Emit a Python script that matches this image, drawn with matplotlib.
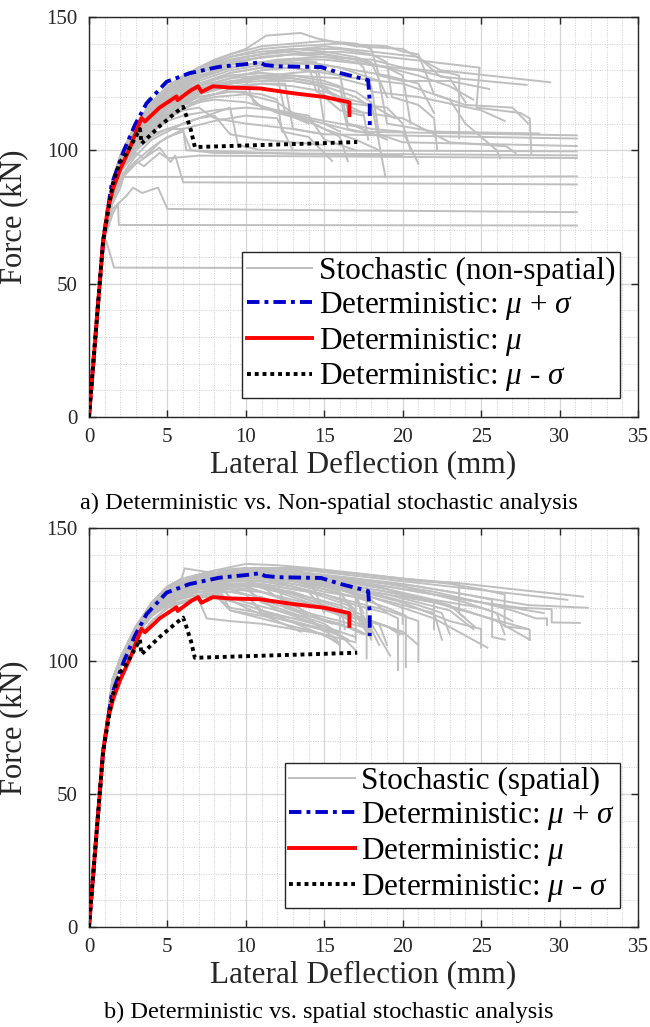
import matplotlib
matplotlib.use('Agg')
import matplotlib.pyplot as plt
from matplotlib.ticker import MultipleLocator

plt.rcParams['font.family'] = ['Liberation Serif', 'DejaVu Serif']
plt.rcParams['mathtext.fontset'] = 'custom'
plt.rcParams['mathtext.rm'] = 'Liberation Serif'
plt.rcParams['mathtext.it'] = 'Liberation Serif:italic'

# deterministic pushover curves (same in both panels)
det_plus_x = [0, 0.9, 1.44, 2.2, 2.93, 3.67, 4.95, 6.4, 8.3, 10, 10.9, 11.2, 12, 14.8, 16, 17.8, 17.9, 17.9]
det_plus_f = [0, 66, 87, 99.5, 109.5, 117.6, 125.7, 128.9, 131.3, 132.3, 133, 132, 131.5, 131.2, 129, 126.3, 118, 109.4]

det_mean_x = [0, 0.9, 1.2, 1.55, 2, 2.61, 3.35, 3.57, 4.5, 5.58, 5.65, 6.5, 6.96, 7.17, 7.9, 9, 10.9, 13, 15, 16.6, 16.6]
det_mean_f = [0, 65.9, 78, 85.9, 93, 100.9, 112.1, 110.8, 116, 120.2, 118.8, 122.5, 124, 121.9, 124, 123.5, 123.2, 121.4, 120, 118, 113.2]

det_minus_x = [0, 0.9, 1.5, 1.97, 2.3, 2.6, 3.25, 3.35, 4.5, 5.5, 6.0, 6.2, 6.5, 6.75, 10, 14, 17.1]
det_minus_f = [0, 66, 87, 95.6, 98, 101, 108, 102.5, 109, 114, 116.3, 113, 107.5, 101.2, 101.8, 102.5, 103.1]

# stochastic (non-spatial) runs
nonspatial_x = [
    [0, 0.9, 1.5, 2, 3, 4, 5, 6, 8, 10, 11.3, 13.5, 14.5, 17, 20, 22.4, 29.4],
    [0, 0.9, 1.5, 2, 3, 4, 5, 7, 9, 12, 15, 18, 21, 22.4, 27.9],
    [0, 0.9, 1.5, 2, 3, 4, 6, 8, 10, 13, 16, 19, 22, 24.9, 24.7, 27.5, 28.1, 28.2],
    [0, 0.9, 1.5, 2, 3, 5, 7, 9, 12, 15, 18, 20, 23, 23.6, 23.6],
    [0, 0.9, 1.5, 2, 3, 5, 7, 10, 13, 16, 18, 19, 19.3, 21, 22, 22.2],
    [0, 0.9, 1.5, 2, 3, 5, 7, 9, 12, 14, 16, 17.5, 18.5, 19, 22, 28.7],
    [0, 0.9, 1.5, 2, 3, 4, 6, 8, 10, 13, 15, 16, 16.5, 20, 23, 26.6, 27.2],
    [0, 0.9, 1.5, 2, 3, 5, 7, 9, 11, 13, 14.5, 15, 17, 31.1],
    [0, 0.9, 1.5, 2, 3, 5, 7, 9, 11, 12.5, 13, 15, 31.1],
    [0, 0.9, 1.5, 2, 3, 5, 7, 10, 13, 16, 18, 18.5, 20, 31.1],
    [0, 0.9, 1.5, 2, 3, 4, 6, 8, 9, 9.5, 11, 31.1],
    [0, 0.9, 1.5, 2, 3, 4, 5, 6, 6.5, 8, 31.1],
    [0, 0.9, 1.5, 2, 2.5, 3, 3.5, 4.5, 5, 7, 31.1],
    [0, 0.9, 1.5, 2, 2.2, 31.1],
    [0, 0.9, 1.5, 2, 3, 4, 4.5, 5.2, 5.5, 6, 31.1],
    [0, 0.9, 1.5, 2.4, 2.8, 3.4, 4.4, 5, 31.1],
    [0, 0.9, 1.5, 1.85, 1.9, 31.1],
    [0, 0.9, 1.1, 1.6, 31.1],
    [0, 0.9, 1.5, 2, 3, 5, 7, 9, 11, 13, 14.5, 15, 16, 17.5],
    [0, 0.9, 1.5, 2, 3, 5, 7, 9, 11, 13, 15, 16, 17.5, 17.8],
    [0, 0.9, 1.5, 2, 3, 5, 7, 9, 11, 12, 12.3, 14, 15.5],
    [0, 0.9, 1.5, 2, 3, 5, 7, 9, 11, 13, 15, 17, 18, 18.9],
    [0, 0.9, 1.5, 2, 3, 5, 7, 9, 11, 13, 15, 17, 20, 22, 23, 24, 26, 26.2],
    [0, 0.9, 1.5, 2, 3, 5, 6, 8, 10, 12, 13.5, 15, 17, 18.5],
    [0, 0.9, 1.5, 2, 3, 5, 7, 9, 11, 13, 15, 17, 17.5, 18, 21, 25, 26.5],
    [0, 0.9, 1.5, 2, 3, 5, 7, 9, 11, 13, 16, 19, 20, 21, 22, 24, 27, 28],
    [0, 0.9, 1.5, 2, 3, 4, 5, 6, 6.2, 9, 14, 20],
    [0, 0.9, 1.5, 2, 3, 5, 7, 9, 10, 10.5, 12, 14, 16, 16.5],
    [0, 0.9, 1.5, 2, 3, 5, 7, 9, 11, 13, 14, 14.5, 16, 19, 20, 20.5],
    [0, 0.9, 1.5, 2, 3, 5, 7, 9, 11, 13, 15, 17, 18, 18.5, 20, 23, 25.5],
    [0, 0.9, 1.5, 2, 3, 5, 7, 9, 11, 13, 15, 16, 16.5, 18, 20, 21],
    [0, 0.9, 1.5, 2, 3, 4, 5, 7, 9, 11, 13, 15, 16, 16.5, 18],
    [0, 0.9, 1.5, 2, 3, 4, 5, 6, 8, 10, 12, 14, 15, 17],
    [0, 0.9, 1.5, 2, 3, 4, 5, 7, 9, 11, 13, 15, 17, 19, 20, 20.5],
    [0, 0.9, 1.5, 2, 3, 4, 5, 7, 9, 11, 12, 12.5, 15, 17, 19],
    [0, 0.9, 1.5, 2, 3, 4, 5, 6, 7, 8, 10, 13, 15],
    [0, 0.9, 1.5, 2, 3, 4, 5, 7, 9, 11, 13, 15, 17, 19, 21, 23, 24.5],
    [0, 0.9, 1.5, 2, 3, 4, 5, 7, 8, 9, 11, 13, 15],
    [0, 0.9, 1.5, 2, 3, 4, 5, 7, 9, 11, 13, 15, 17, 18],
    [0, 0.9, 1.5, 2, 3, 4, 5, 7, 9, 11, 13, 15, 17, 18, 19],
    [0, 0.9, 1.5, 2, 3, 4, 5, 7, 8, 10, 12, 14],
    [0, 0.9, 1.5, 2, 3, 4, 5, 7, 9, 11, 13, 15, 18, 21, 23, 24],
    [0, 0.9, 1.5, 2, 3, 3.5, 4.5, 6, 8, 10, 12, 13],
    [0, 0.9, 1.5, 2, 3, 4, 5, 7, 9, 11, 13, 14, 16, 18, 19.5],
    [0, 0.9, 1.5, 2, 3, 4, 5, 7, 9, 10, 11, 13, 15, 16],
    [0, 0.9, 1.5, 2, 3, 4, 5, 7, 9, 11, 13, 15, 17, 19, 21, 22],
]
nonspatial_f = [
    [0, 65, 89, 98, 110, 118, 124, 128, 134, 138, 143, 144, 142, 139, 138, 130, 125.5],
    [0, 65, 88, 97, 108, 116, 122, 129, 134, 137, 139, 137, 135, 127.6, 124.5],
    [0, 65, 87, 96, 107, 115, 124, 130, 134, 136, 137, 135, 133, 131, 116, 114, 112, 99],
    [0, 65, 86, 95, 106, 119, 127, 131, 134, 135, 134, 131, 129, 128, 104.5],
    [0, 65, 88, 97, 109, 122, 129, 135, 138, 138, 136, 133, 120, 117, 112, 100],
    [0, 65, 87, 95, 105, 117, 124, 129, 132, 133, 131, 128, 126, 110, 107, 106.3],
    [0, 65, 85, 93, 103, 110, 118, 124, 127, 129, 130, 128, 115, 112, 103, 101.5, 99],
    [0, 65, 86, 94, 104, 116, 123, 127, 130, 131, 129, 110, 107, 105.6],
    [0, 65, 84, 92, 101, 112, 119, 123, 125, 125, 108, 106, 104.4],
    [0, 65, 85, 93, 102, 113, 121, 127, 128, 127, 124, 106, 103, 101.6],
    [0, 65, 83, 90, 98, 104, 110, 114, 116, 102, 100, 99.6],
    [0, 65, 82, 89, 96, 101, 105, 107, 100, 99, 98.1],
    [0, 65, 81, 88, 93, 96, 94, 99, 97, 98, 97.1],
    [0, 65, 80, 86, 90, 90.2],
    [0, 65, 83, 89, 95, 99, 101, 95.6, 98, 88, 87.2],
    [0, 65, 78, 83, 86, 84, 86, 78, 76.8],
    [0, 65, 76, 80, 72, 71.8],
    [0, 62, 66, 56, 55.6],
    [0, 65, 88, 96, 107, 120, 127, 131, 133, 134, 133, 120, 115, 113],
    [0, 65, 87, 95, 105, 117, 123, 126, 127, 126, 124, 118, 114, 104],
    [0, 65, 86, 94, 104, 114, 120, 122, 121, 119, 107, 105, 96],
    [0, 65, 86, 94, 104, 115, 121, 125, 127, 127, 125, 122, 118, 90],
    [0, 65, 87, 96, 106, 118, 125, 129, 131, 131, 129, 127, 125, 121, 119, 110, 100, 97],
    [0, 65, 85, 93, 103, 113, 117, 120, 121, 118, 112, 108, 104, 100],
    [0, 65, 88, 97, 108, 121, 128, 132, 135, 136, 136, 134, 131, 122, 120, 115, 111],
    [0, 65, 89, 98, 109, 122, 130, 135, 138, 139, 140, 139, 137, 136, 121, 117, 116, 110],
    [0, 65, 85, 93, 102, 106, 108, 108, 100, 99.5, 98.5, 98],
    [0, 65, 86, 94, 104, 116, 122, 125, 126, 118, 114, 111, 105, 96],
    [0, 65, 87, 96, 107, 119, 126, 130, 132, 133, 132, 122, 118, 116, 110, 100],
    [0, 65, 89, 98, 110, 123, 131, 136, 139, 140, 141, 140, 138, 128, 126, 126, 123],
    [0, 65, 87, 96, 106, 118, 125, 128, 129, 128, 126, 124, 110, 108, 107, 95],
    [0, 65, 86, 94, 104, 111, 116, 121, 124, 125, 124, 122, 120, 108, 106],
    [0, 65, 85, 93, 101, 107, 111, 113, 115, 116, 115, 113, 104, 100],
    [0, 65, 88, 97, 108, 117, 123, 130, 134, 136, 137, 136, 134, 131, 128, 110],
    [0, 65, 87, 96, 106, 114, 119, 125, 128, 129, 128, 114, 111, 109, 104],
    [0, 65, 86, 93, 102, 108, 112, 115, 116, 112, 110, 108, 106],
    [0, 65, 88, 97, 108, 116, 122, 129, 133, 135, 136, 135, 133, 131, 128, 124, 119],
    [0, 65, 85, 92, 100, 105, 108, 112, 113, 106, 104, 103, 102],
    [0, 65, 87, 95, 105, 112, 117, 122, 125, 126, 126, 124, 120, 116],
    [0, 65, 88, 97, 109, 118, 124, 131, 135, 137, 138, 137, 135, 133, 120],
    [0, 65, 86, 94, 103, 109, 113, 118, 119, 118, 115, 110],
    [0, 65, 87, 96, 107, 115, 121, 127, 131, 133, 134, 134, 132, 130, 127, 118],
    [0, 65, 85, 92, 99, 97, 103, 108, 111, 113, 112, 100],
    [0, 65, 87, 95, 105, 113, 119, 124, 127, 128, 127, 126, 120, 117, 112],
    [0, 65, 86, 94, 104, 111, 116, 120, 122, 122, 116, 113, 110, 107],
    [0, 65, 88, 97, 108, 116, 122, 128, 131, 133, 133, 132, 130, 128, 125, 114],
]

# stochastic (spatial) runs
spatial_x = [
    [0, 0.9, 1.5, 2, 3, 4, 5, 6, 8, 10, 12, 14, 17, 20, 24, 27, 31.5],
    [0, 0.9, 1.5, 2, 3, 4, 5, 7, 9, 11, 14, 17, 20, 23, 26, 28, 31.8],
    [0, 0.9, 1.5, 2, 3, 4, 5, 7, 9, 11, 13, 16, 19, 22, 25, 27.5, 29.5, 29.5, 31.3],
    [0, 0.9, 1.5, 2, 3, 4, 5, 7, 9, 11, 13, 16, 19, 22, 25, 28, 28.1, 28.1],
    [0, 0.9, 1.5, 2, 3, 4, 5, 7, 9, 11, 13, 15, 18, 21, 24, 25.7, 25.7, 26.5],
    [0, 0.9, 1.5, 2, 3, 4, 5, 7, 9, 11, 13, 15, 18, 20, 23, 25, 25],
    [0, 0.9, 1.5, 2, 3, 4, 5, 7, 9, 11, 13, 15, 18, 21, 23.6, 23.6, 24.6],
    [0, 0.9, 1.5, 2, 3, 4, 5, 7, 9, 11, 13, 15, 17, 19, 19.7, 19.7],
    [0, 0.9, 1.5, 2, 3, 4, 5, 7, 9, 11, 13, 15, 17, 19, 20.2, 20.2],
    [0, 0.9, 1.5, 2, 3, 4, 5, 7, 9, 11, 13, 15, 17, 19, 21, 21],
    [0, 0.9, 1.5, 2, 3, 4, 5, 5.9, 6.1, 8, 10, 12, 14, 16, 17.7, 17.7],
    [0, 0.9, 1.5, 2, 3, 4, 5, 7, 9, 11, 13, 14.5, 16, 18, 18.5],
    [0, 0.9, 1.5, 2, 3, 4, 5, 6, 8, 9, 10, 12, 14, 15, 16, 17],
    [0, 0.9, 1.5, 2, 3, 4, 5, 6, 7, 7.5, 9, 11, 13, 15, 17],
    [0, 0.9, 1.5, 2, 3, 4, 5, 6, 8, 10, 12, 14, 16, 17.5, 18],
    [0, 0.9, 1.5, 2, 3, 4, 5, 6, 8, 10, 12, 14, 16, 18, 20, 22, 22.5],
    [0, 0.9, 1.5, 2, 3, 4, 5, 7, 9, 11, 12, 13, 15, 17, 19, 20],
    [0, 0.9, 1.5, 2, 3, 4, 5, 7, 9, 10, 11, 13, 15, 16],
    [0, 0.9, 1.5, 2, 3, 4, 5, 7, 9, 11, 13, 15, 17, 17.5],
    [0, 0.9, 1.5, 2, 3, 4, 5, 7, 9, 11, 13, 15, 16, 16.3],
    [0, 0.9, 1.5, 2, 3, 4, 5, 6, 8, 10, 12, 14, 15.5],
    [0, 0.9, 1.5, 2, 3, 4, 5, 7, 9, 11, 13, 15, 17, 19, 21, 23, 24],
    [0, 0.9, 1.5, 2, 3, 4, 5, 7, 9, 11, 13, 16, 19, 22, 25, 27, 28.5, 29.2, 29.2],
    [0, 0.9, 1.5, 2, 3, 4, 5, 7, 9, 11, 13, 15, 18, 21, 24, 26, 28.1],
    [0, 0.9, 1.5, 2, 3, 4, 5, 7, 9, 11, 13, 15, 18, 20, 22, 25.4],
    [0, 0.9, 1.5, 2, 3, 4, 5, 7, 9, 10, 11, 12, 14, 16],
    [0, 0.9, 1.5, 2, 3, 4, 5, 7, 8, 9, 11, 13, 15, 16.5],
    [0, 0.9, 1.5, 2, 3, 4, 5, 7, 9, 11, 13, 15, 16, 17.8],
    [0, 0.9, 1.5, 2, 3, 4, 5, 7, 9, 11, 13, 14, 15, 17, 19, 19.8],
    [0, 0.9, 1.5, 2, 3, 4, 5, 7, 9, 11, 13, 15, 17, 19, 21, 22, 22],
    [0, 0.9, 1.5, 2, 3, 4, 5, 7, 9, 11, 14, 17, 20, 23, 25, 26.5, 26.5, 28],
    [0, 0.9, 1.5, 2, 3, 4, 5, 7, 9, 11, 13, 15, 16.5, 17, 17],
    [0, 0.9, 1.5, 2, 3, 4, 5, 7, 8, 9, 10, 12, 14, 15],
    [0, 0.9, 1.5, 2, 3, 4, 5, 6, 7, 9, 11, 13, 14, 15.8],
    [0, 0.9, 1.5, 2, 3, 4, 5, 7, 9, 10, 10.5, 12, 14, 16, 18],
    [0, 0.9, 1.5, 2, 3, 4, 5, 7, 9, 11, 12, 12.5, 14, 16, 17.5],
    [0, 0.9, 1.5, 2, 3, 4, 5, 7, 9, 11, 13, 15, 17, 19, 20, 20],
    [0, 0.9, 1.5, 2, 3, 4, 5, 7, 9, 11, 13, 15, 16, 16],
    [0, 0.9, 1.5, 2, 3, 4, 5, 6, 8, 10, 12, 14, 16, 18, 19],
    [0, 0.9, 1.5, 2, 3, 4, 5, 7, 9, 11, 13, 14, 15, 17, 18],
    [0, 0.9, 1.5, 2, 3, 4, 5, 6, 7, 8, 10, 12, 13.5],
    [0, 0.9, 1.5, 2, 3, 4, 5, 7, 9, 11, 14, 17, 20, 22, 24, 26, 27],
    [0, 0.9, 1.5, 2, 3, 4, 5, 7, 9, 11, 13, 16, 19, 21, 23, 24.5],
    [0, 0.9, 1.5, 2, 3, 4, 5, 7, 9, 10, 11, 13, 15, 16.5],
    [0, 0.9, 1.5, 2, 3, 4, 5, 6, 8, 10, 12, 14, 16, 17, 17],
    [0, 0.9, 1.5, 2, 3, 4, 5, 7, 9, 11, 13, 15, 17, 18.5, 19],
    [0, 0.9, 1.5, 2, 3, 4, 5, 7, 9, 11, 14, 17, 20, 23, 26, 29, 30.5],
    [0, 0.9, 1.5, 2, 3, 4, 5, 7, 8.5, 9, 11, 13, 15, 16],
    [0, 0.9, 1.5, 2, 3, 4, 5, 7, 9, 11, 13, 15, 17, 19, 21, 22.5, 23],
    [0, 0.9, 1.5, 2, 3, 4, 5, 7, 9, 11, 12, 14, 16, 18, 20, 21],
    [0, 0.9, 1.5, 2, 3, 4, 5, 6, 8, 10, 12, 14, 15],
    [0, 0.9, 1.5, 2, 3, 4, 5, 7, 9, 11, 13, 15, 18, 21, 24, 27, 29],
    [0, 0.9, 1.5, 2, 3, 4, 5, 7, 9, 10, 12, 14, 16, 18, 19.2],
    [0, 0.9, 1.5, 2, 3, 4, 5, 7, 9, 11, 13, 15, 17, 17.5],
    [0, 0.9, 1.5, 2, 3, 4, 5, 7, 9, 11, 13, 16, 19, 22, 25, 26, 26.5],
    [0, 0.9, 1.5, 2, 3, 4, 5, 7, 9, 10, 12, 13, 15, 17],
    [0, 0.9, 1.5, 2, 3, 4, 5, 7, 8, 10, 12, 14, 16],
    [0, 0.9, 1.5, 2, 3, 4, 5, 7, 9, 11, 13, 15, 16.5, 18],
]
spatial_f = [
    [0, 66, 93, 101, 113, 121, 127, 131, 134, 136.5, 136, 135, 133, 131, 129, 127, 124.2],
    [0, 66, 92, 100, 112, 120, 126, 131, 133, 134, 133, 131, 129, 126, 123, 121, 120],
    [0, 66, 92, 100, 112, 119, 125, 130, 132, 133, 132, 130, 128, 125, 122, 120, 119.5, 114.5, 114.3],
    [0, 66, 91, 99, 111, 119, 124, 129, 131, 132, 131, 129, 126, 122, 117, 112, 111.6, 107.9],
    [0, 66, 91, 99, 110, 118, 124, 129, 132, 133, 133, 132, 130, 128, 125, 123, 109, 108],
    [0, 66, 92, 100, 111, 119, 125, 130, 132, 132, 131, 129, 125, 122, 115, 112, 105],
    [0, 66, 93, 101, 113, 121, 127, 132, 134, 135, 135, 134, 132, 130, 129.3, 118, 112.8],
    [0, 66, 92, 100, 111, 119, 125, 129, 130, 130, 128, 125, 121, 118, 116, 96.6],
    [0, 66, 91, 99, 110, 118, 123, 128, 130, 130, 129, 127, 124, 120, 117, 97.7],
    [0, 66, 91, 99, 110, 117, 122, 127, 129, 129, 127, 125, 122, 119, 115, 99.6],
    [0, 66, 93, 101, 113, 122, 128, 131, 134.8, 133, 134, 133, 131, 127, 123, 101],
    [0, 66, 92, 100, 111, 118, 123, 127, 127, 126, 123, 121, 117, 112, 106],
    [0, 66, 91, 99, 110, 117, 121, 124, 125, 120, 119, 117, 115, 112, 110, 104],
    [0, 66, 91, 98, 108, 115, 120, 122, 123, 116, 115, 114, 112, 110, 107],
    [0, 66, 92, 100, 112, 120, 125, 129, 131, 130, 127, 124, 121, 117, 108],
    [0, 66, 92, 100, 111, 119, 124, 128, 131, 132, 131, 129, 127, 124, 121, 118, 108],
    [0, 66, 91, 99, 110, 118, 123, 127, 129, 128, 124, 122, 120, 117, 113, 110],
    [0, 66, 92, 100, 111, 119, 124, 128, 129, 128, 122, 118, 114, 110],
    [0, 66, 93, 101, 113, 121, 127, 131, 133, 133, 132, 130, 128, 113],
    [0, 66, 92, 100, 112, 120, 126, 130, 132, 132, 130, 127, 125, 112],
    [0, 66, 92, 100, 111, 119, 124, 127, 129, 128, 124, 118, 114],
    [0, 66, 93, 101, 113, 121, 127, 132, 134, 134, 133, 131, 129, 127, 124, 121, 116],
    [0, 66, 93, 101, 113, 121, 127, 131, 133, 134, 133, 131, 129, 126, 122, 119, 116, 116, 113.5],
    [0, 66, 92, 100, 112, 120, 126, 130, 132, 133, 132, 130, 127, 124, 119, 115, 108],
    [0, 66, 92, 99, 110, 118, 124, 129, 131, 131, 130, 128, 124, 120, 116, 105],
    [0, 66, 91, 99, 110, 117, 122, 126, 127, 125, 118, 116, 113, 110],
    [0, 66, 91, 98, 108, 115, 120, 124, 125, 119, 117, 115, 112, 108],
    [0, 66, 93, 101, 113, 121, 127, 131, 133, 133, 131, 128, 126, 110],
    [0, 66, 92, 100, 111, 119, 124, 128, 129, 129, 127, 126, 119, 116, 113, 110],
    [0, 66, 93, 101, 113, 121, 126, 130, 132, 132, 131, 129, 127, 125, 123, 122, 112],
    [0, 66, 93, 101, 113, 121, 127, 131, 134, 135, 134, 133, 131, 129, 127, 125, 113, 112],
    [0, 66, 90, 99, 111, 119, 124, 128, 130, 130, 128, 125, 122, 119, 108],
    [0, 66, 91, 100, 112, 120, 125, 129, 130, 124, 122, 119, 116, 111],
    [0, 66, 90, 99, 110, 117, 122, 125, 126, 126, 124, 120, 116, 108],
    [0, 67, 92, 101, 113, 121, 127, 131, 133, 133, 124, 121, 118, 115, 112],
    [0, 66, 91, 100, 111, 119, 125, 129, 131, 131, 130, 120, 117, 114, 110],
    [0, 67, 92, 101, 113, 122, 128, 132, 134, 135, 134, 132, 130, 127, 125, 114],
    [0, 66, 90, 99, 110, 118, 123, 127, 128, 128, 126, 122, 120, 104],
    [0, 66, 91, 100, 112, 120, 126, 129, 132, 133, 132, 130, 127, 123, 118],
    [0, 66, 90, 99, 111, 118, 123, 126, 127, 126, 122, 117, 115, 112, 109],
    [0, 66, 91, 100, 111, 119, 124, 127, 128, 126, 120, 115, 111],
    [0, 67, 92, 101, 113, 121, 127, 131, 133, 134, 133, 131, 128, 125, 122, 118, 115],
    [0, 66, 91, 100, 112, 120, 125, 129, 131, 132, 131, 128, 125, 122, 119, 112],
    [0, 66, 90, 99, 110, 117, 122, 125, 126, 125, 119, 116, 113, 108],
    [0, 67, 92, 101, 113, 121, 127, 130, 133, 134, 133, 131, 128, 126, 116],
    [0, 66, 91, 100, 111, 119, 124, 128, 129, 128, 125, 121, 117, 114, 106],
    [0, 67, 92, 101, 113, 121, 127, 131, 134, 135, 134, 132, 130, 128, 126, 124, 123],
    [0, 66, 90, 99, 110, 117, 121, 124, 125, 119, 116, 113, 110, 106],
    [0, 66, 91, 100, 112, 120, 126, 130, 132, 133, 132, 130, 127, 124, 121, 118, 110],
    [0, 66, 90, 99, 110, 118, 123, 127, 129, 129, 127, 123, 119, 115, 111, 106],
    [0, 67, 92, 101, 113, 122, 128, 131, 134, 135, 134, 132, 118],
    [0, 66, 91, 100, 112, 120, 126, 130, 132, 133, 133, 131, 129, 126, 123, 120, 118],
    [0, 66, 90, 99, 111, 119, 124, 128, 129, 129, 126, 122, 118, 114, 102],
    [0, 66, 91, 100, 112, 120, 125, 129, 131, 131, 129, 126, 124, 118],
    [0, 67, 92, 101, 113, 121, 127, 131, 133, 134, 133, 130, 127, 123, 120, 118, 110],
    [0, 66, 91, 99, 110, 118, 123, 127, 128, 127, 119, 117, 113, 109],
    [0, 66, 90, 99, 110, 117, 121, 124, 124, 121, 117, 112, 107],
    [0, 66, 91, 100, 111, 119, 124, 128, 130, 130, 128, 124, 121, 111],
]

gray = '#BFBFBF'
axis_col = '#262626'

fig = plt.figure(figsize=(6.5, 10.27), dpi=100)
ax_a = fig.add_axes([0.1369, 0.594, 0.8446, 0.3895])
ax_b = fig.add_axes([0.1369, 0.0974, 0.8446, 0.3885])


def draw_panel(ax, runs_x, runs_f, stoch_label, caption):
    for i, (xs, fs) in enumerate(zip(runs_x, runs_f)):
        ax.plot(xs, fs, color=gray, lw=1.4, zorder=2,
                label=stoch_label if i == 0 else None)
    ax.plot(det_plus_x, det_plus_f, color='#0000CC', lw=2.8,
            ls=(0, (3.2, 1.3, 1.0, 1.3)), label=r'Deterministic: $\mu$ + $\sigma$', zorder=4)
    ax.plot(det_mean_x, det_mean_f, color='#FF0000', lw=2.8,
            label=r'Deterministic: $\mu$', zorder=4)
    ax.plot(det_minus_x, det_minus_f, color='black', lw=2.8,
            ls=(0, (1, 1)), label=r'Deterministic: $\mu$ - $\sigma$', zorder=5)

    ax.set_xlim(0, 35)
    ax.set_ylim(0, 150)
    ax.xaxis.set_major_locator(MultipleLocator(5))
    ax.xaxis.set_minor_locator(MultipleLocator(1))
    ax.yaxis.set_major_locator(MultipleLocator(50))
    ax.yaxis.set_minor_locator(MultipleLocator(10))
    ax.grid(which='major', color='#D6D6D6', lw=0.9, ls='-', zorder=0)
    ax.grid(which='minor', color='#CFCFCF', lw=0.7, ls=(0, (1, 1.5)), zorder=0)
    ax.set_axisbelow(True)
    ax.tick_params(which='major', direction='in', top=True, right=True,
                   length=5, width=1, labelsize=15, colors=axis_col, pad=8)
    ax.tick_params(which='minor', length=0)
    for s in ax.spines.values():
        s.set_color(axis_col)
        s.set_linewidth(1)

    ax.set_xlabel('Lateral Deflection (mm)', fontsize=22.5, color=axis_col, labelpad=2)
    ax.set_ylabel('Force (kN)', fontsize=22, color=axis_col)
    ax.yaxis.set_label_coords(-0.111, 0.5)
    ax.text(0.437, -0.215, caption, transform=ax.transAxes, ha='center',
            va='center', fontsize=17.5, color='black')

    leg = ax.legend(loc='lower right', bbox_to_anchor=(0.967, 0.047),
                    fontsize=22.5, frameon=True, fancybox=False, framealpha=1,
                    edgecolor=axis_col, handlelength=2.1, handletextpad=0.2,
                    labelspacing=0.12, borderpad=0.15, borderaxespad=0)
    leg.get_frame().set_linewidth(1)
    leg.set_zorder(10)


draw_panel(ax_a, nonspatial_x, nonspatial_f, 'Stochastic (non-spatial)',
           'a) Deterministic vs. Non-spatial stochastic analysis')
draw_panel(ax_b, spatial_x, spatial_f, 'Stochastic (spatial)',
           'b) Deterministic vs. spatial stochastic analysis')

fig.savefig('out.png', dpi=100)
